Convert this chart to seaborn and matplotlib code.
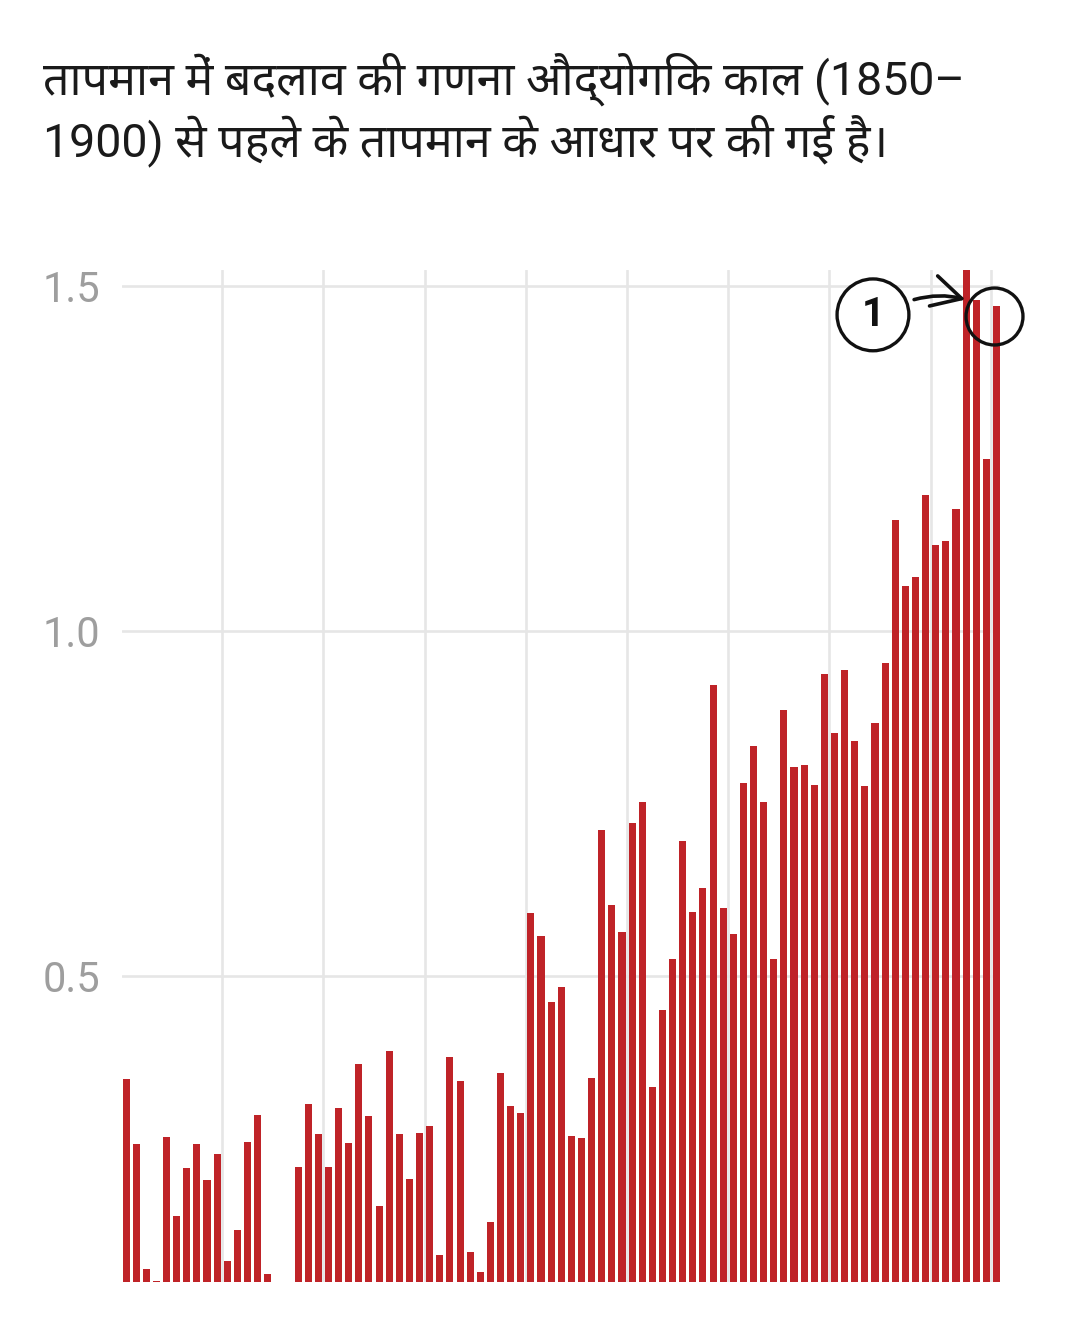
import matplotlib
matplotlib.use("Agg")
import matplotlib.pyplot as plt
import numpy as np
import pandas as pd
import seaborn as sns

# values (deg C above 1850-1900), oldest bar first
anomaly = [
    0.350, 0.257, 0.075, 0.058, 0.267, 0.152, 0.222, 0.257, 0.205, 0.242,
    0.087, 0.132, 0.259, 0.298, 0.068, 0.040, 0.030, 0.223, 0.314, 0.271,
    0.223, 0.308, 0.258, 0.372, 0.297, 0.167, 0.391, 0.271, 0.206, 0.273,
    0.283, 0.096, 0.383, 0.348, 0.100, 0.071, 0.143, 0.360, 0.312, 0.302,
    0.591, 0.558, 0.462, 0.484, 0.268, 0.265, 0.352, 0.711, 0.603, 0.563,
    0.722, 0.752, 0.339, 0.450, 0.525, 0.696, 0.593, 0.627, 0.922, 0.598,
    0.561, 0.779, 0.833, 0.752, 0.524, 0.885, 0.803, 0.806, 0.776, 0.937,
    0.852, 0.943, 0.840, 0.775, 0.866, 0.954, 1.160, 1.065, 1.078, 1.197,
    1.125, 1.131, 1.177, 1.550, 1.479, 1.249, 1.471,
]
bar_no = list(range(len(anomaly)))
y_ticks = [0.5, 1.0, 1.5]
y_tick_labels = ["0.5", "1.0", "1.5"]
title_line1 = "तापमान में बदलाव की गणना औद्योगिक काल (1850–"
title_line2 = "1900) से पहले के तापमान के आधार पर की गई है।"
callout = "1"

df = pd.DataFrame({"bar": bar_no, "anomaly": anomaly})

sns.set_theme(style="white")
plt.rcParams["font.family"] = ["Roboto", "Noto Sans Devanagari", "DejaVu Sans"]

fig = plt.figure(figsize=(10.8, 13.24), dpi=100)
ax = fig.add_axes([122 / 1080, 1 - 1282 / 1324, 878 / 1080, 1012 / 1324])

# grid first so bars sit on top
for gx in [9.5, 19.5, 29.5, 39.5, 49.5, 59.5, 69.5, 79.5, 85.5]:
    ax.axvline(gx, color="#e6e6e6", lw=1.9, zorder=0)
for gy in y_ticks:
    ax.axhline(gy, color="#e6e6e6", lw=1.9, zorder=0)

sns.barplot(data=df, x="bar", y="anomaly", color="#bf2328", saturation=1,
            width=0.7, linewidth=0, edgecolor="none", ax=ax, zorder=2)

ax.set_xlim(-0.4, 86.35)
ax.set_ylim(0.0565, 1.523)
ax.set_xticks([])
ax.set_yticks(y_ticks)
ax.set_yticklabels(y_tick_labels)
ax.tick_params(axis="y", length=0, pad=16, labelsize=30, labelcolor="#9e9e9e")
ax.set_xlabel("")
ax.set_ylabel("")
for s in ax.spines.values():
    s.set_visible(False)

# hand drawn call-out: numbered circle, arrow to the record bar, ring round the last ones
ax.text(73.8, 1.458, callout, ha="center", va="center", fontsize=29,
        fontweight="bold", color="#111111",
        bbox=dict(boxstyle="circle,pad=0.42", fc="white", ec="#111111", lw=2.4),
        zorder=5)
ax.annotate("", xy=(83.2, 1.479), xytext=(77.6, 1.479),
            arrowprops=dict(arrowstyle="->,head_length=0.75,head_width=0.4",
                            connectionstyle="arc3,rad=-0.15", color="#111111",
                            lw=2.6, mutation_scale=28),
            zorder=5)
ax.plot([85.8], [1.457], marker="o", markersize=41, mfc="none", mec="#111111",
        mew=2.4, zorder=5, clip_on=False)

fig.text(43 / 1080, 1 - 95 / 1324, title_line1, fontsize=33.5, color="#1a1a1a",
         va="baseline", ha="left")
fig.text(43 / 1080, 1 - 156 / 1324, title_line2, fontsize=33.5, color="#1a1a1a",
         va="baseline", ha="left")

fig.savefig("out.png", dpi=100, facecolor="white")
